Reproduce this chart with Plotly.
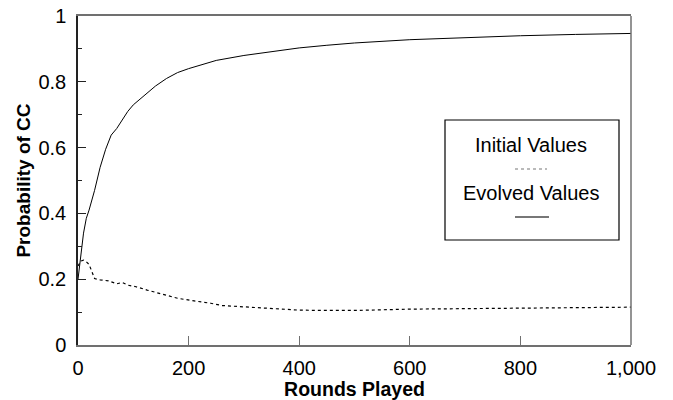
import plotly.graph_objects as go

# Rounds played (x) and probability of mutual cooperation (CC)
evolved_rounds = [0, 5, 10, 15, 20, 30, 40, 50, 60, 70, 80, 90, 100, 120, 140, 160,
                  180, 200, 250, 300, 350, 400, 450, 500, 600, 700, 800, 900, 1000]
evolved_values = [0.20, 0.27, 0.34, 0.385, 0.41, 0.47, 0.54, 0.595, 0.638, 0.658, 0.685,
                  0.71, 0.73, 0.76, 0.787, 0.81, 0.828, 0.84, 0.865, 0.88, 0.892, 0.903,
                  0.911, 0.918, 0.928, 0.935, 0.94, 0.944, 0.947]

initial_rounds = [0, 5, 10, 15, 20, 25, 30, 40, 55, 70, 80, 90, 105, 125, 150, 180, 210,
                  240, 260, 300, 330, 360, 400, 450, 500, 600, 700, 800, 900, 1000]
initial_values = [0.24, 0.255, 0.258, 0.253, 0.245, 0.22, 0.202, 0.198, 0.195, 0.186,
                  0.19, 0.182, 0.177, 0.167, 0.155, 0.142, 0.134, 0.127, 0.12, 0.116,
                  0.111, 0.108, 0.106, 0.105, 0.105, 0.109, 0.111, 0.112, 0.113, 0.115]

x_ticks = [0, 200, 400, 600, 800, 1000]
x_tick_labels = ["0", "200", "400", "600", "800", "1,000"]
y_ticks = [0, 0.2, 0.4, 0.6, 0.8, 1]
y_tick_labels = ["0", "0.2", "0.4", "0.6", "0.8", "1"]

FONT = "Liberation Sans, Arial, sans-serif"
DARK = "#222222"
GRAY = "#707070"

# plot area in pixels (left, right, top, bottom)
L, R, T, B = 78, 631, 16, 345
PW, PH = R - L, B - T


def px(x):
    return (x - L) / PW


def py(y):
    return (B - y) / PH


fig = go.Figure()
fig.add_trace(go.Scatter(x=initial_rounds, y=initial_values, mode="lines",
                         line=dict(color="black", width=1.2, dash="dot"),
                         name="Initial Values", showlegend=False))
fig.add_trace(go.Scatter(x=evolved_rounds, y=evolved_values, mode="lines",
                         line=dict(color="black", width=1),
                         name="Evolved Values", showlegend=False))

fig.update_layout(
    width=673, height=400,
    margin=dict(l=L, r=673 - R, t=T, b=400 - B),
    plot_bgcolor="white", paper_bgcolor="white",
    font=dict(family=FONT, color="black"),
    xaxis=dict(
        range=[0, 1000], tickvals=x_ticks, ticktext=x_tick_labels,
        ticks="inside", ticklen=9, tickcolor=GRAY, tickwidth=1,
        showline=True, linecolor=GRAY, linewidth=1.5, mirror=True,
        showgrid=False, zeroline=False, automargin=False,
        tickfont=dict(size=20), ticklabelstandoff=4,
        title=dict(text="<b>Rounds Played</b>", font=dict(size=19.5), standoff=4),
    ),
    yaxis=dict(
        range=[0, 1], tickvals=y_ticks, ticktext=y_tick_labels,
        ticks="inside", ticklen=8, tickcolor=DARK, tickwidth=1,
        minor=dict(tickvals=[0.1, 0.3, 0.5, 0.7, 0.9], ticks="inside", ticklen=4,
                   tickcolor=DARK, showgrid=False),
        showline=True, linecolor=DARK, linewidth=1.5, mirror=False,
        showgrid=False, zeroline=False, automargin=False,
        tickfont=dict(size=20), ticklabelstandoff=6,
        title=dict(text="<b>Probability of CC</b>", font=dict(size=19), standoff=3),
    ),
)

# right frame edge
fig.add_shape(type="line", xref="paper", yref="paper", x0=1, x1=1, y0=0, y1=1,
              line=dict(color=GRAY, width=1.5), layer="above")

# Legend box drawn by hand: caption above each line sample
fig.add_shape(type="rect", xref="paper", yref="paper",
              x0=px(445), x1=px(619), y0=py(240), y1=py(120),
              line=dict(color="black", width=1.2), fillcolor="white", layer="above")
fig.add_shape(type="line", xref="paper", yref="paper",
              x0=px(515), x1=px(547), y0=py(169), y1=py(169),
              line=dict(color="#777777", width=1.2, dash="dot"), layer="above")
fig.add_shape(type="line", xref="paper", yref="paper",
              x0=px(515), x1=px(549), y0=py(217), y1=py(217),
              line=dict(color="#777777", width=2), layer="above")
fig.add_annotation(xref="paper", yref="paper", x=px(531), y=py(145),
                   text="Initial Values", showarrow=False, font=dict(size=20),
                   xanchor="center", yanchor="middle")
fig.add_annotation(xref="paper", yref="paper", x=px(531), y=py(193),
                   text="Evolved Values", showarrow=False, font=dict(size=20),
                   xanchor="center", yanchor="middle")

fig.write_html("out.html")
